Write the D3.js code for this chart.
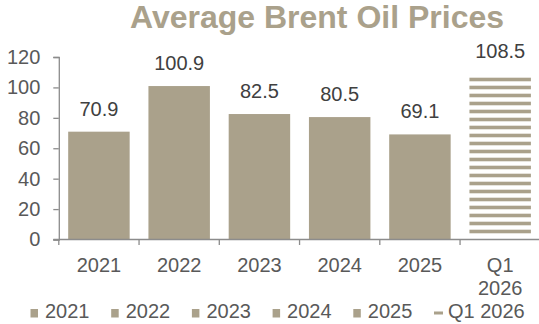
<!DOCTYPE html>
<html>
<head>
<meta charset="utf-8">
<script src="https://cdn.jsdelivr.net/npm/d3@7/dist/d3.min.js"></script>
<style>
  html, body { margin: 0; padding: 0; background: #fff; }
  svg { display: block; font-family: "Liberation Sans", Arial, sans-serif; }
</style>
</head>
<body>
<script>
// Average Brent oil prices (USD per barrel)
const categories = ["2021", "2022", "2023", "2024", "2025", "Q1 2026"];
const axisLabels = [["2021"], ["2022"], ["2023"], ["2024"], ["2025"], ["Q1", "2026"]];
const prices = [70.9, 100.9, 82.5, 80.5, 69.1, 108.5];
const forecast = [false, false, false, false, false, true];
const yTicks = [0, 20, 40, 60, 80, 100, 120];

const W = 539, H = 324;
const barColor = "#aaa18b";
const axisColor = "#8c8c8c";

const svg = d3.select("body").append("svg")
  .attr("width", W).attr("height", H);

svg.append("rect").attr("width", W).attr("height", H).attr("fill", "#fff");

const x = d3.scaleBand().domain(categories).range([58.8, 540.3]).paddingInner(0).paddingOuter(0);
const y = d3.scaleLinear().domain([0, 120]).range([239.5, 57]);
const barW = x.bandwidth() * 0.766;

// Title
svg.append("text")
  .attr("x", 317).attr("y", 27.5)
  .attr("text-anchor", "middle")
  .attr("font-size", 32).attr("font-weight", "bold")
  .attr("fill", "#aaa18b")
  .text("Average Brent Oil Prices");

// Y axis
const yAxis = svg.append("g")
  .attr("transform", `translate(${x.range()[0]},0)`)
  .call(d3.axisLeft(y).tickValues(yTicks).tickSize(5.5).tickPadding(13).tickSizeOuter(5.5));
yAxis.select(".domain").attr("stroke", axisColor).attr("stroke-width", 1.3);
yAxis.selectAll(".tick line").attr("stroke", axisColor).attr("stroke-width", 1.3);
yAxis.selectAll(".tick text")
  .attr("font-size", 20).attr("fill", "#595959")
  .attr("font-family", "Liberation Sans, Arial, sans-serif");

// Bars
const g = svg.append("g");
categories.forEach((c, i) => {
  const x0 = x(c) + (x.bandwidth() - barW) / 2;
  const top = y(prices[i]);
  if (!forecast[i]) {
    g.append("rect")
      .attr("x", x0).attr("y", top)
      .attr("width", barW).attr("height", y(0) - top)
      .attr("fill", barColor);
  } else {
    // forecast bar drawn as horizontal stripes
    for (let s = top + 3.2; s + 3.6 < y(0) - 2; s += 8) {
      g.append("rect")
        .attr("x", x0).attr("y", s)
        .attr("width", barW).attr("height", 3.6)
        .attr("fill", barColor);
    }
  }
  g.append("text")
    .attr("x", x0 + barW / 2).attr("y", top - 16)
    .attr("text-anchor", "middle")
    .attr("font-size", 20).attr("fill", "#404040")
    .text(prices[i].toFixed(1));
});

// X axis
const xAxis = svg.append("g")
  .attr("transform", `translate(0,${y(0)})`);
xAxis.append("line")
  .attr("x1", x.range()[0] - 5.5).attr("x2", x.range()[1])
  .attr("stroke", axisColor).attr("stroke-width", 1.3);
categories.forEach((c, i) => {
  xAxis.append("line")
    .attr("x1", x(c)).attr("x2", x(c)).attr("y1", 0).attr("y2", 5.5)
    .attr("stroke", axisColor).attr("stroke-width", 1.3);
  const t = xAxis.append("text")
    .attr("text-anchor", "middle")
    .attr("font-size", 20).attr("fill", "#595959");
  axisLabels[i].forEach((line, k) => {
    t.append("tspan")
      .attr("x", x(c) + x.bandwidth() / 2)
      .attr("y", 32.5 + k * 23)
      .text(line);
  });
});

// Legend
const legend = svg.append("g").attr("transform", "translate(30.5,317.5)");
categories.forEach((c, i) => {
  const item = legend.append("g").attr("transform", `translate(${i * 80.7},0)`);
  if (!forecast[i]) {
    item.append("rect").attr("x", 0).attr("y", -8.5).attr("width", 7.5).attr("height", 8.5).attr("fill", barColor);
  } else {
    item.append("rect").attr("x", 0).attr("y", -6).attr("width", 9).attr("height", 3).attr("fill", barColor);
  }
  item.append("text")
    .attr("x", forecast[i] ? 14 : 14.5).attr("y", 0)
    .attr("font-size", 20).attr("fill", "#595959")
    .text(c);
});
</script>
</body>
</html>
